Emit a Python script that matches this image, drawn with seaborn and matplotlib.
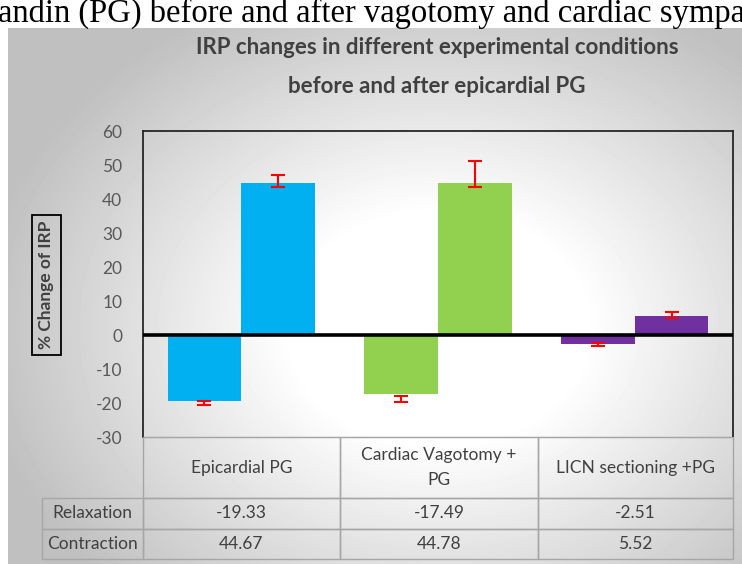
import numpy as np
import pandas as pd
import seaborn as sns
import matplotlib.pyplot as plt

# values
conditions = ["Epicardial PG", "Cardiac Vagotomy +\nPG", "LICN sectioning +PG"]
phases = ["Relaxation", "Contraction"]
relaxation = [-19.33, -17.49, -2.51]
contraction = [44.67, 44.78, 5.52]
# error bar ends (low, high) as drawn in the picture
relax_err_lo = [-20.6, -19.8, -3.1]
relax_err_hi = [-19.4, -18.0, -2.4]
contr_err_lo = [43.5, 43.6, 5.0]
contr_err_hi = [47.2, 51.1, 6.7]
bar_colors = ["#00B0F0", "#92D050", "#7030A0"]
yticks = list(range(-30, 61, 10))

df = pd.DataFrame({
    "cond": conditions * 2,
    "phase": [phases[0]] * 3 + [phases[1]] * 3,
    "value": relaxation + contraction,
})

sns.set_style("white")
plt.rcParams["font.family"] = ["Lato", "DejaVu Sans"]
plt.rcParams["axes.unicode_minus"] = False

W, H = 742, 564
fig = plt.figure(figsize=(W / 100, H / 100), dpi=100)


def fr(x0, y0, x1, y1):
    # pixel box (top-left origin) -> figure fraction rect
    return [x0 / W, 1 - y1 / H, (x1 - x0) / W, (y1 - y0) / H]


# grey radial gradient panel behind the chart
bg = fig.add_axes(fr(8, 28, 742, 564))
yy, xx = np.mgrid[0:536, 0:734]
r = np.sqrt(((xx - 430) / 420.0) ** 2 + ((yy - 300) / 330.0) ** 2)
shade = 1 - 0.25 * np.clip((r - 0.35) / 0.75, 0, 1)
bg.imshow(shade, cmap="gray", vmin=0, vmax=1, aspect="auto", interpolation="bilinear")
bg.axis("off")

# caption line of the page above the chart (cut off in the screenshot)
fig.text(-0.003, 1 - 22 / H, "andin (PG) before and after vagotomy and cardiac sympat",
         family="Liberation Serif", fontsize=23.5, va="baseline", ha="left", color="black")

fig.text(437 / W, 1 - 48 / H, "IRP changes in different experimental conditions",
         ha="center", va="center", fontsize=16, fontweight="bold", color="#404040")
fig.text(437 / W, 1 - 86 / H, "before and after epicardial PG",
         ha="center", va="center", fontsize=16, fontweight="bold", color="#404040")

ax = fig.add_axes(fr(143, 131, 733, 437))
ax.set_facecolor("none")
sns.barplot(data=df, x="cond", y="value", hue="phase", order=conditions,
            hue_order=phases, width=0.75, saturation=1, legend=False, ax=ax)
for i, p in enumerate(ax.patches):
    p.set_facecolor(bar_colors[i % 3])
    p.set_edgecolor("none")

xs = [p.get_x() + p.get_width() / 2 for p in ax.patches]
lo = np.array(relax_err_lo + contr_err_lo)
hi = np.array(relax_err_hi + contr_err_hi)
ax.errorbar(xs, (lo + hi) / 2, yerr=(hi - lo) / 2, fmt="none", ecolor="red",
            elinewidth=1.5, capsize=5, capthick=1.5, zorder=5)

ax.axhline(0, color="black", lw=2.6, zorder=4)
ax.set_ylim(-30, 60)
ax.set_xlim(-0.5, 2.5)
ax.set_yticks(yticks)
ax.set_xticks([])
ax.set_xlabel("")
ax.set_ylabel("")
ax.tick_params(axis="y", length=0, pad=15, labelsize=12.5, labelcolor="#595959")
for s in ["left", "top", "right"]:
    ax.spines[s].set_color("#262626")
    ax.spines[s].set_linewidth(1.3)
ax.spines["bottom"].set_color("#A6A6A6")

# data table under the plot
cell_text = [[""] + conditions,
             ["Relaxation"] + [f"{v:.2f}" for v in relaxation],
             ["Contraction"] + [f"{v:.2f}" for v in contraction]]
tab = ax.table(cellText=cell_text, cellLoc="center", colWidths=[101, 197, 198, 195],
               bbox=[(42 - 143) / 590, -122 / 306, (733 - 42) / 590, 122 / 306])
tab.auto_set_font_size(False)
tab.set_fontsize(12.5)
for (row, col), cell in tab.get_celld().items():
    cell.set_facecolor("none")
    cell.set_edgecolor("#A6A6A6")
    cell.set_linewidth(1)
    cell.get_text().set_color("#404040")
    cell.get_text().set_linespacing(1.7)
    if row == 0:
        cell.set_height(cell.get_height() * 2)
    if row == 0 and col == 0:
        cell.visible_edges = ""
    if col == 0:
        cell._loc = "left"
        cell.PAD = 0.05

fig.text(46.5 / W, 1 - 285 / H, "% Change of IRP", rotation=90, ha="center", va="center",
         fontsize=12.5, fontweight="bold", color="#404040",
         bbox=dict(boxstyle="square,pad=0.35", fc="none", ec="black", lw=1.3))

fig.savefig("out.png", dpi=100)
